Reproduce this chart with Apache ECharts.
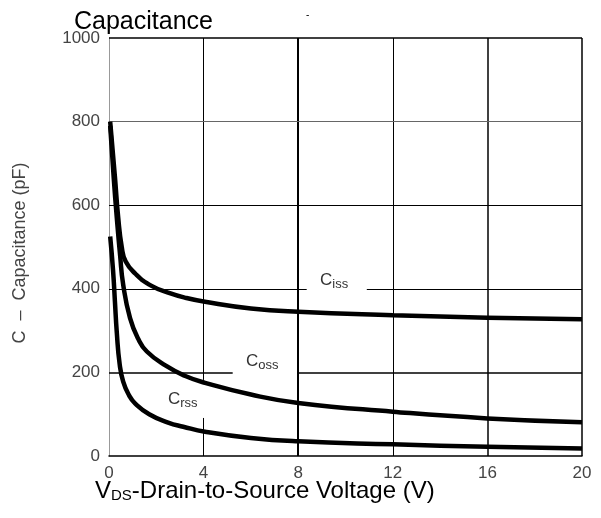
<!DOCTYPE html>
<html>
<head>
<meta charset="utf-8">
<script src="https://cdn.jsdelivr.net/npm/echarts@6/dist/echarts.min.js"></script>
<style>html,body{margin:0;padding:0;background:#fff;}#c{width:601px;height:518px;}</style>
</head>
<body>
<div id="c"></div>
<script>
// Data (VDS in V, capacitance in pF)
const xTicks = [0, 4, 8, 12, 16, 20];
const yTicks = [0, 200, 400, 600, 800, 1000];
const cissPoints = [[0.05,800],[0.25,668],[0.39,570],[0.54,500],[0.7,466],[1.1,437],[1.8,407],[2.6,389],[3.2,379],[4.06,369],[6,353],[8,345],[12,337],[16,331],[20,327]];
const cossPoints = [[0.05,790],[0.2,665],[0.33,570],[0.47,480],[0.6,410],[0.89,330],[1.24,280],[1.6,250],[2.4,216],[3.2,192],[4.06,175],[6,147],[8,127],[12,106],[16,90],[20,81]];
const crssPoints = [[0.05,525],[0.17,445],[0.25,370],[0.33,295],[0.45,220],[0.6,178],[0.85,145],[1.1,126],[1.7,100],[2.5,80],[3.14,70],[4.06,58],[6,43],[8,35],[12,28],[16,22],[20,18]];
const seriesNames = ['Ciss', 'Coss', 'Crss'];

const FONT = 'Liberation Sans, Arial, sans-serif';
const chart = echarts.init(document.getElementById('c'), null, {renderer: 'canvas'});

function seg(x1, y1, x2, y2, w, c) {
  return [{coord: [x1, y1], lineStyle: {width: w, color: c || '#000', type: 'solid'}}, {coord: [x2, y2]}];
}
const gridSegs = [
  seg(4, 0, 4, 91, 1), seg(4, 182, 4, 1000, 1),
  seg(8, 0, 8, 1000, 2),
  seg(12, 0, 12, 1000, 1),
  seg(16, 0, 16, 1000, 1.5),
  seg(20, 0, 20, 1000, 1.5),
  seg(0, 200, 5.23, 200, 1.5), seg(8, 200, 20, 200, 1.5),
  seg(0, 400, 8.36, 400, 1), seg(10.9, 400, 20, 400, 1),
  seg(0, 600, 20, 600, 1),
  seg(0, 800, 20, 800, 1, '#666'),
  seg(0, 1000, 20, 1000, 1.5)
];

function curve(name, pts) {
  return {
    name: name, type: 'line', data: pts, symbol: 'none', smooth: 0.5,
    lineStyle: {color: '#000', width: 4.5}, z: 5, silent: true
  };
}

const subRich = {
  c: {fontFamily: FONT, fontSize: 17, fill: '#333'},
  s: {fontFamily: FONT, fontSize: 13, fill: '#333', padding: [7, 0, 0, 0]}
};

chart.setOption({
  animation: false,
  backgroundColor: '#fff',
  title: {text: 'Capacitance', left: 69, top: 5, textStyle: {fontFamily: FONT, fontSize: 25, fontWeight: 'normal', color: '#000'}},
  grid: {left: 109, right: 19, top: 38, bottom: 62},
  xAxis: {
    type: 'value', min: 0, max: 20, interval: 4,
    axisLine: {show: true, lineStyle: {color: '#000', width: 1.5}},
    axisTick: {show: false}, splitLine: {show: false},
    axisLabel: {fontFamily: FONT, fontSize: 17, color: '#444', margin: 9,
      formatter: v => xTicks.includes(v) ? String(v) : ''}
  },
  yAxis: {
    type: 'value', min: 0, max: 1000, interval: 200,
    name: 'C \u00a0–\u00a0 Capacitance (pF)', nameLocation: 'middle', nameGap: 80,
    nameTextStyle: {fontFamily: FONT, fontSize: 18, color: '#444', padding: [0, 12, 0, 0]},
    axisLine: {show: true, lineStyle: {color: '#999', width: 1}},
    axisTick: {show: false}, splitLine: {show: false},
    axisLabel: {fontFamily: FONT, fontSize: 17, color: '#444', margin: 9,
      formatter: v => yTicks.includes(v) ? String(v) : ''}
  },
  series: [
    {type: 'line', data: [], silent: true, z: 2,
      markLine: {silent: true, symbol: 'none', animation: false, label: {show: false}, data: gridSegs}},
    curve(seriesNames[0], cissPoints),
    curve(seriesNames[1], cossPoints),
    curve(seriesNames[2], crssPoints)
  ],
  graphic: [
    {type: 'text', left: 320, top: 272, z: 10, style: {text: '{c|C}{s|iss}', rich: subRich}},
    {type: 'text', left: 246, top: 353, z: 10, style: {text: '{c|C}{s|oss}', rich: subRich}},
    {type: 'text', left: 168, top: 391, z: 10, style: {text: '{c|C}{s|rss}', rich: subRich}},
    {type: 'text', left: 95, top: 479, z: 10, style: {text: '{v|V}{s|DS}{v|-Drain-to-Source Voltage (V)}', rich: {
      v: {fontFamily: FONT, fontSize: 24, fill: '#000'}, s: {fontFamily: FONT, fontSize: 15, fill: '#000', padding: [9, 0, 0, 0]}}}},
    {type: 'text', left: 306, top: 10, z: 10, style: {text: '-', fontFamily: FONT, fontSize: 10, fill: '#000'}}
  ]
});
</script>
</body>
</html>
